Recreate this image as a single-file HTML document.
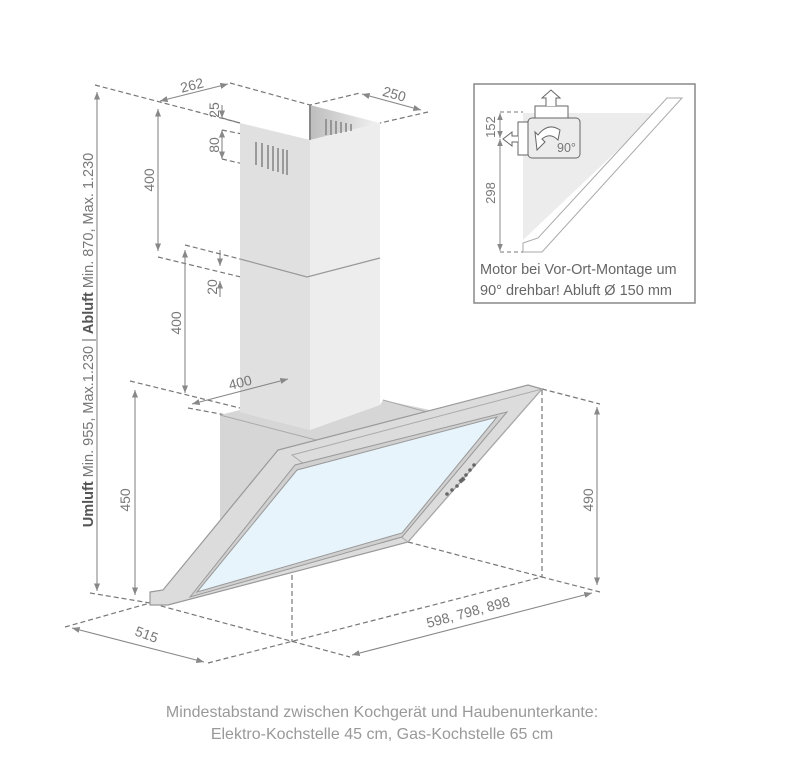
<!DOCTYPE html>
<html><head><meta charset="utf-8"><style>
html,body{margin:0;padding:0;background:#fff}
svg{display:block}
text{font-family:"Liberation Sans Narrow","Liberation Sans",sans-serif;fill:#777}
</style></head><body>
<svg width="800" height="767" viewBox="0 0 800 767" xmlns="http://www.w3.org/2000/svg">
<defs>
<marker id="a" viewBox="0 0 10 10" refX="10" refY="5" markerWidth="7" markerHeight="7" orient="auto-start-reverse"><path d="M0,1 L10,5 L0,9 z" fill="#888"/></marker>
<linearGradient id="g" x1="0" x2="1"><stop offset="0" stop-color="#bdbdbd"/><stop offset="1" stop-color="#f2f2f2"/></linearGradient>
</defs>
<g stroke="#777" stroke-width="1.2" fill="none" stroke-dasharray="5,3">
<!-- top -->
<path d="M95,85 L240,123"/><path d="M230,83 L310,105 L360,93"/><path d="M428,112 L380,123"/>
<path d="M222,118 L240,123"/><path d="M222,130 L257,137"/><path d="M222,159 L270,170"/>
<path d="M158,257 L307,293 L380,275"/><path d="M185,245 L240,259"/>
<path d="M130,381 L240,408"/><path d="M188,408 L237,417"/><path d="M292,377 L380,397"/>
<!-- bottom -->
<path d="M90,593 L150,603 L350,657"/><path d="M65,627 L150,603"/><path d="M208,663 L542,577 L600,592"/>
<path d="M292,455 L292,642"/><path d="M408,542 L542,577"/><path d="M542,390 L542,577"/><path d="M542,389 L600,404"/>
</g>
<!-- chimney -->
<polygon points="310,105 380,123 310,140" fill="url(#g)"/>
<line x1="310" y1="105" x2="310" y2="140" stroke="#888" stroke-width="2"/>
<polygon points="240,123 310,140 310,430 240,412" fill="#e0e0e0"/>
<polygon points="310,140 380,123 380,405 310,430" fill="#ededed"/>
<path d="M240,259 L307,277 L380,258" stroke="#999" fill="none" stroke-width="1.2"/>
<g stroke="#888" stroke-width="1.6">
<line x1="256" y1="142" x2="256" y2="165"/><line x1="262" y1="143" x2="262" y2="167"/><line x1="268" y1="145" x2="268" y2="169"/><line x1="273" y1="146" x2="273" y2="171"/><line x1="278" y1="148" x2="278" y2="172"/><line x1="283" y1="149" x2="283" y2="174"/><line x1="287" y1="150" x2="287" y2="175"/>
<line x1="326" y1="119" x2="326" y2="135"/><line x1="331" y1="120" x2="331" y2="135"/><line x1="336" y1="121" x2="336" y2="134"/><line x1="341" y1="122" x2="341" y2="133"/><line x1="346" y1="123" x2="346" y2="132"/><line x1="351" y1="124" x2="351" y2="131"/>
</g>
<!-- hood back box -->
<polygon points="220,415 240,410 240,412 310,430 380,405 383,400 430,410 320,442 292,452 292,530 220,530" fill="#d6d6d6"/>
<path d="M220,415 L320,441 M383,400 L427,412" stroke="#aaa" fill="none"/>
<!-- frame -->
<polygon points="150,592 163,590 278,450 528,385 542,389 408,542 168,605 150,605" fill="#dcdcdc" stroke="#999" stroke-width="1.2"/>
<polygon points="292,455 542,389 408,542" fill="none" stroke="#aaa"/>
<polygon points="190,597 295,465 507,412 402,537" fill="#d0d0d0" stroke="#999"/>
<polygon points="197,592 297,470 497,417 402,533" fill="#e8f4fb" stroke="#999"/>
<g fill="#666"><circle cx="447" cy="494" r="1.8"/><circle cx="452" cy="490" r="1.8"/><circle cx="457" cy="486" r="1.8"/><rect x="459" y="478" width="6" height="4" transform="rotate(-40 462 480)"/><circle cx="466" cy="475" r="1.8"/><circle cx="470" cy="470" r="1.8"/><circle cx="474" cy="465" r="1.8"/></g>
<!-- dimension lines -->
<g stroke="#888" stroke-width="1.1" fill="none" marker-start="url(#a)" marker-end="url(#a)">
<line x1="160" y1="101" x2="228" y2="84"/><line x1="362" y1="94" x2="421" y2="110"/>
<line x1="97" y1="92" x2="97" y2="591"/><line x1="158" y1="109" x2="158" y2="251"/>
<line x1="185" y1="250" x2="185" y2="393"/><line x1="192" y1="404" x2="288" y2="379"/>
<line x1="135" y1="390" x2="135" y2="595"/><line x1="597" y1="407" x2="597" y2="585"/>
<line x1="72" y1="628" x2="204" y2="662"/><line x1="352" y1="655" x2="592" y2="593"/>
</g>
<g stroke="#888" stroke-width="1.1">
<line x1="222" y1="105" x2="222" y2="118" marker-end="url(#a)"/><line x1="222" y1="145" x2="222" y2="130" marker-end="url(#a)"/><line x1="222" y1="145" x2="222" y2="159" marker-end="url(#a)"/>
<line x1="220" y1="250" x2="220" y2="266" marker-end="url(#a)"/><line x1="220" y1="297" x2="220" y2="281" marker-end="url(#a)"/>
</g>
<!-- labels -->
<g font-size="14">
<text x="180" y="90" transform="rotate(-14 192 84)">262</text>
<text x="383" y="99" transform="rotate(16 395 93)">250</text>
<text transform="translate(219,110) rotate(-90)" text-anchor="middle">25</text>
<text transform="translate(219,145) rotate(-90)" text-anchor="middle">80</text>
<text transform="translate(154,180) rotate(-90)" text-anchor="middle">400</text>
<text transform="translate(217,287) rotate(-90)" text-anchor="middle">20</text>
<text transform="translate(181,323) rotate(-90)" text-anchor="middle">400</text>
<text transform="translate(230,390) rotate(-14)">400</text>
<text transform="translate(130,500) rotate(-90)" text-anchor="middle">450</text>
<text transform="translate(593,500) rotate(-90)" text-anchor="middle">490</text>
<text transform="translate(134,635) rotate(20)">515</text>
<text transform="translate(428,628) rotate(-15)">598, 798, 898</text>
<text transform="translate(93,340) rotate(-90)" text-anchor="middle" font-size="14.5"><tspan font-weight="bold" fill="#555">Umluft</tspan> Min. 955, Max.1.230 | <tspan font-weight="bold" fill="#555">Abluft</tspan> Min. 870, Max. 1.230</text>
</g>
<!-- inset -->
<rect x="474" y="84" width="221" height="219" fill="#fff" stroke="#888" stroke-width="1.5"/>
<polygon points="523,113 657,113 523,240" fill="#ececec"/>
<polygon points="667,98 682,98 542,252 523,252 523,243 538,238" fill="#fff" stroke="#aaa"/>
<rect x="535" y="106" width="33" height="12" fill="#fff" stroke="#666"/>
<path d="M546,106 V98 H542 L551,90 L560,98 H556 V106" fill="#fff" stroke="#666"/>
<rect x="518" y="122" width="10" height="33" fill="#fff" stroke="#666"/>
<path d="M518,136 H512 V132 L503,139 L512,146 V142 H518" fill="#fff" stroke="#666"/>
<rect x="528" y="118" width="52" height="40" rx="4" fill="#ececec" stroke="#666"/>
<path d="M560,130 Q548,122 538,135 L535,132 L537,150 L545,142 L542,139 Q550,132 558,140 Z" fill="#fff" stroke="#666"/>
<text x="557" y="152" font-size="12.5" fill="#555">90°</text>
<g stroke="#777" fill="none" stroke-dasharray="4,3"><path d="M500,112 H523"/><path d="M500,252 H523"/></g>
<g stroke="#888" stroke-width="1"><line x1="500" y1="113" x2="500" y2="138" marker-start="url(#a)" marker-end="url(#a)"/><line x1="500" y1="139" x2="500" y2="251" marker-start="url(#a)" marker-end="url(#a)"/></g>
<g font-size="13"><text transform="translate(495,127) rotate(-90)" text-anchor="middle">152</text><text transform="translate(495,193) rotate(-90)" text-anchor="middle">298</text></g>
<g font-size="14.5" fill="#666"><text x="480" y="274" style="fill:#666">Motor bei Vor-Ort-Montage um</text><text x="480" y="295" style="fill:#666">90° drehbar! Abluft Ø 150 mm</text></g>
<!-- footer -->
<g font-size="16" text-anchor="middle" style="font-family:'Liberation Sans',sans-serif"><text x="382" y="717" style="fill:#999;font-family:'Liberation Sans',sans-serif">Mindestabstand zwischen Kochgerät und Haubenunterkante:</text><text x="382" y="739" style="fill:#999;font-family:'Liberation Sans',sans-serif">Elektro-Kochstelle 45 cm, Gas-Kochstelle 65 cm</text></g>
</svg>
</body></html>
